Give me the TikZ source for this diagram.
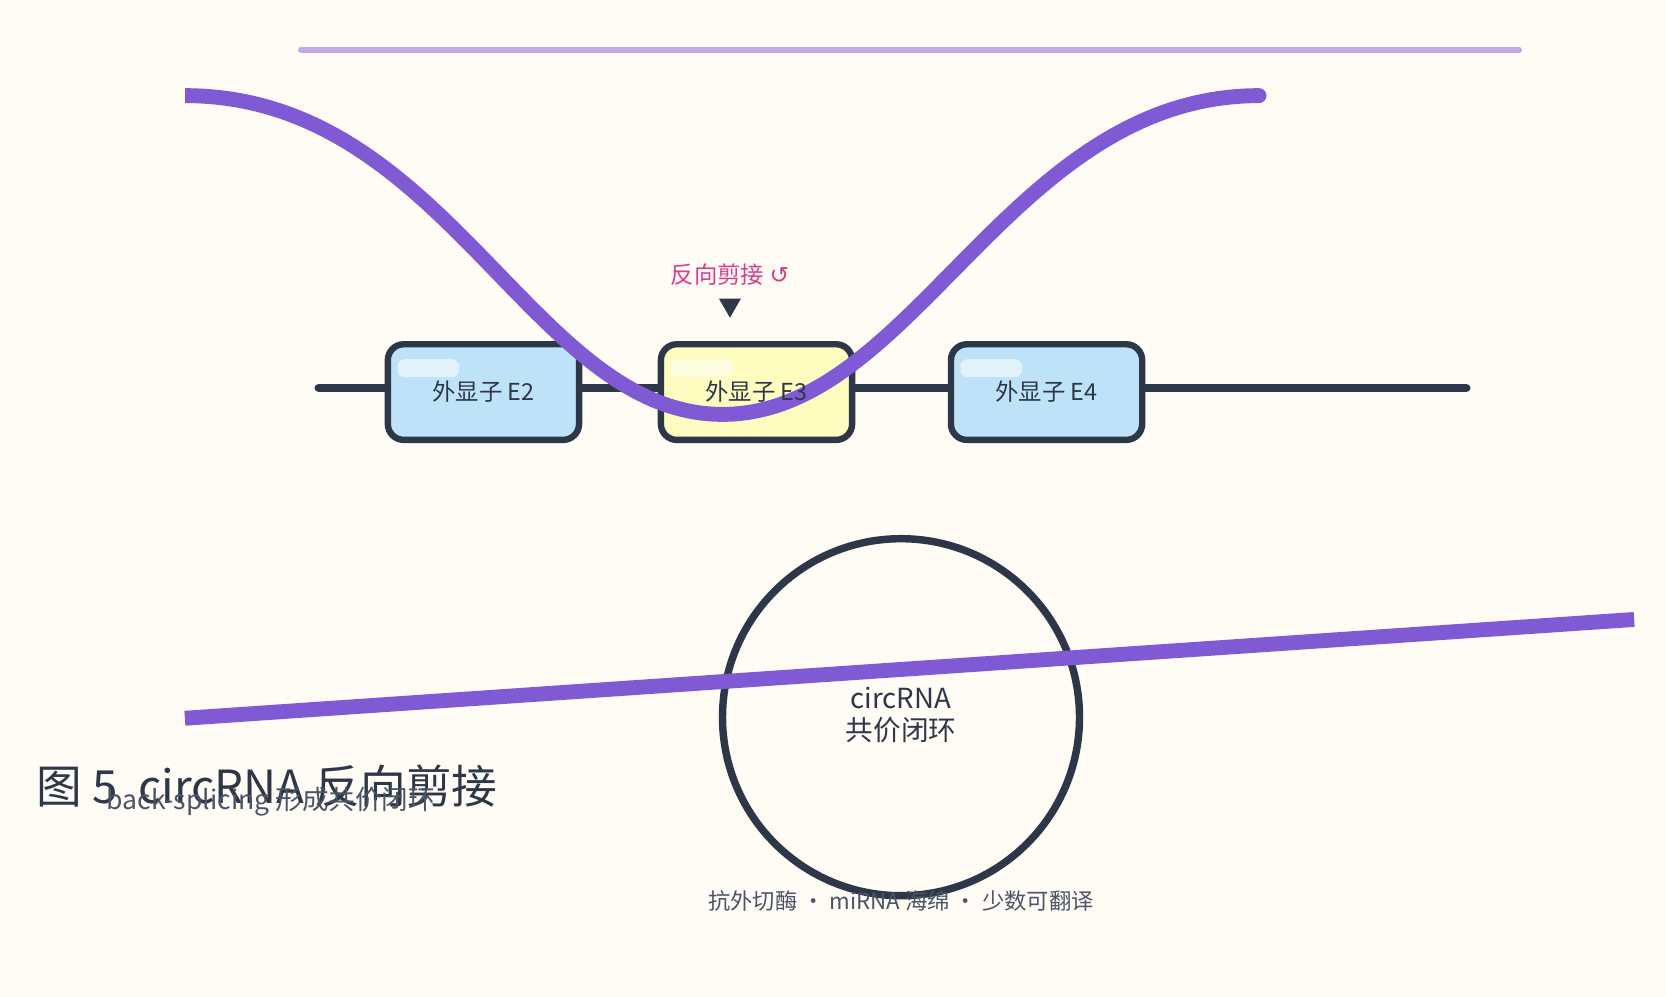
\documentclass[tikz,border=0pt]{standalone}
\usepackage{fontspec}
\usetikzlibrary{shapes.geometric}
\setmainfont{Noto Sans CJK SC}
\newfontfamily\djv{DejaVu Sans}
\begin{document}
\begin{tikzpicture}[x=1pt,y=-1pt,
  dark/.style={draw=ink,line width=7pt},
  exon/.style={draw=ink,line width=6pt,rounded corners=15pt,minimum width=180pt,minimum height=90pt},
  lbl/.style={font=\fontsize{22}{24}\selectfont,text=ink},
  hl/.style={fill=white,fill opacity=0.55,rounded corners=7pt}]
\definecolor{bg}{HTML}{FFFBF5}
\definecolor{ink}{HTML}{2D3748}
\definecolor{pur}{HTML}{805AD5}
\definecolor{lpur}{HTML}{C3A8E8}
\definecolor{pink}{HTML}{D53F8C}
\definecolor{gray}{HTML}{4A5568}
\definecolor{eb}{HTML}{BEE3F8}
\definecolor{ey}{HTML}{FEFCBF}
\fill[bg] (0,0) rectangle (1568,938);
\useasboundingbox (0,0) rectangle (1568,938);
\coordinate (t1) at (283,47); \coordinate (t2) at (1430,47);
\draw[lpur,line width=5pt,line cap=round] (t1) -- (t2);
\coordinate (g1) at (300,365); \coordinate (g2) at (1380,365);
\draw[ink,line width=8pt,line cap=round] (g1) -- (g2);
\node[exon,fill=eb] (e2) at (455,369) {};
\node[exon,fill=ey] (e3) at (712,369) {};
\node[exon,fill=eb] (e4) at (985,369) {};
\foreach \n in {e2,e3,e4}{\fill[hl] ([xshift=12pt,yshift=-17pt]\n.north west) rectangle ++(58,17);}
\coordinate (c1) at (174,90); \coordinate (cm) at (680,390); \coordinate (c2) at (1185,90);
\draw[pur,line width=14pt,line cap=round] (c1) .. controls (420,90) and (500,390) .. (cm) .. controls (860,390) and (950,90) .. (c2);
\fill[bg] (150,60) rectangle (174,120);
\node[lbl] at (e2) {外显子 E2};
\node[lbl] at (e3) {外显子 E3};
\node[lbl] at (e4) {外显子 E4};
\node[font=\fontsize{22}{24}\selectfont,text=pink] (bs) at (687,258) {反向剪接 {\djv ↺}};
\node[fill=ink,regular polygon,regular polygon sides=3,shape border rotate=180,inner sep=0pt,minimum size=24pt] (tri) at (687,287) {};
\node[circle,dark,minimum size=336pt] (circ) at (848,675) {};
\coordinate (s1) at (174,676); \coordinate (s2) at (1538,583);
\draw[pur,line width=14pt] (s1) -- (s2);
\node[align=center,font=\fontsize{26}{30}\selectfont,text=ink] (ct) at (848,673) {circRNA\\共价闭环};
\node[font=\fontsize{21}{24}\selectfont,text=gray] (ft) at (848,848) {抗外切酶 · miRNA 海绵 · 少数可翻译};
\node[anchor=base west,font=\fontsize{43}{46}\selectfont,text=ink] (title) at (31,756) {图 5\ \ circRNA 反向剪接};
\node[anchor=base west,font=\fontsize{25}{28}\selectfont,text=gray] (sub) at (97,762) {back-splicing 形成共价闭环};
\end{tikzpicture}
\end{document}
